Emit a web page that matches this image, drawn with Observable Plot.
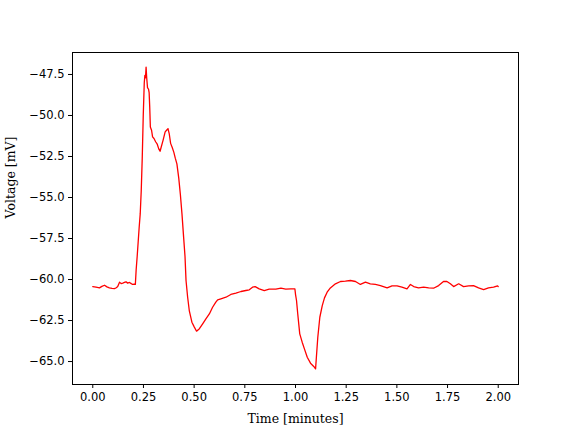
<!DOCTYPE html>
<html>
<head>
<meta charset="utf-8">
<script src="https://cdn.jsdelivr.net/npm/d3@7"></script>
<script src="https://cdn.jsdelivr.net/npm/@observablehq/plot@0.6"></script>
<style>
  html, body { margin: 0; padding: 0; background: white; }
</style>
</head>
<body>
<div id="chart"></div>
<script>
const times = [
  0.000, 0.016, 0.033, 0.045, 0.058, 0.070, 0.082, 0.095, 0.107, 0.116,
  0.123, 0.132, 0.140, 0.148, 0.156, 0.164, 0.172, 0.181, 0.190, 0.197,
  0.205, 0.210, 0.214, 0.219, 0.224, 0.229, 0.234, 0.239, 0.244, 0.249,
  0.254, 0.257, 0.260, 0.263, 0.266, 0.270, 0.275, 0.278, 0.281, 0.284,
  0.290, 0.295, 0.302, 0.310, 0.318, 0.326, 0.332, 0.337, 0.347, 0.357,
  0.364, 0.371, 0.377, 0.384, 0.392, 0.400, 0.407, 0.415, 0.424, 0.432,
  0.440, 0.448, 0.455, 0.460, 0.468, 0.476, 0.489, 0.501, 0.512, 0.526,
  0.542, 0.558, 0.575, 0.591, 0.607, 0.616, 0.632, 0.657, 0.681, 0.706,
  0.731, 0.755, 0.772, 0.788, 0.801, 0.821, 0.846, 0.870, 0.903, 0.928,
  0.952, 0.977, 0.997, 1.000, 1.005, 1.011, 1.021, 1.033, 1.044, 1.058,
  1.074, 1.090, 1.099, 1.103, 1.110, 1.120, 1.132, 1.143, 1.156, 1.172,
  1.197, 1.222, 1.246, 1.271, 1.296, 1.320, 1.345, 1.369, 1.394, 1.419,
  1.452, 1.476, 1.501, 1.525, 1.550, 1.567, 1.583, 1.607, 1.632, 1.657,
  1.681, 1.706, 1.730, 1.747, 1.764, 1.780, 1.805, 1.829, 1.854, 1.878,
  1.903, 1.928, 1.952, 1.977, 1.997, 2.000
];
const volts = [
  -60.43, -60.47, -60.51, -60.42, -60.35, -60.45, -60.51, -60.54, -60.55, -60.50,
  -60.43, -60.16, -60.25, -60.22, -60.18, -60.14, -60.22, -60.18, -60.25, -60.30,
  -60.28, -60.30, -59.40, -58.60, -57.70, -56.80, -56.00, -54.60, -52.60, -50.00,
  -48.00, -47.55, -47.70, -47.05, -47.70, -48.30, -48.40, -48.60, -49.50, -50.70,
  -50.90, -51.30, -51.40, -51.60, -51.75, -52.05, -52.18, -51.95, -51.50, -51.00,
  -50.90, -50.80, -51.10, -51.70, -51.95, -52.25, -52.60, -52.95, -53.80, -54.80,
  -56.00, -57.40, -58.60, -60.06, -61.08, -61.89, -62.60, -62.90, -63.15, -63.00,
  -62.70, -62.40, -62.10, -61.69, -61.38, -61.24, -61.18, -61.08, -60.91, -60.83,
  -60.73, -60.67, -60.63, -60.47, -60.43, -60.57, -60.67, -60.59, -60.59, -60.53,
  -60.59, -60.57, -60.57, -60.90, -61.28, -62.09, -63.31, -63.82, -64.23, -64.74,
  -65.10, -65.30, -65.45, -64.74, -63.52, -62.30, -61.59, -61.12, -60.77, -60.51,
  -60.26, -60.12, -60.10, -60.06, -60.12, -60.30, -60.16, -60.26, -60.30, -60.37,
  -60.51, -60.39, -60.39, -60.47, -60.57, -60.30, -60.43, -60.51, -60.47, -60.51,
  -60.53, -60.37, -60.12, -60.12, -60.26, -60.43, -60.26, -60.43, -60.39, -60.37,
  -60.51, -60.61, -60.51, -60.47, -60.39, -60.43
];
const xTicks = [0, 0.25, 0.5, 0.75, 1.0, 1.25, 1.5, 1.75, 2.0];
const yTicks = [-47.5, -50.0, -52.5, -55.0, -57.5, -60.0, -62.5, -65.0];
const xLabel = "Time [minutes]";
const yLabel = "Voltage [mV]";

const data = times.map((t, i) => ({t, v: volts[i]}));

const chart = Plot.plot({
  width: 576,
  height: 432,
  marginLeft: 72,
  marginRight: 58,
  marginTop: 52,
  marginBottom: 48,
  style: {fontFamily: "DejaVu Sans", fontSize: "11.5px", color: "black", background: "white"},
  x: {domain: [-0.1, 2.1]},
  y: {domain: [-66.40, -46.16]},
  marks: [
    Plot.line(data, {x: "t", y: "v", stroke: "red", strokeWidth: 1.3}),
    Plot.frame({stroke: "black", strokeWidth: 1}),
    Plot.axisX({ticks: xTicks, tickFormat: d => d.toFixed(2), tickSize: 4, tickPadding: 4, label: null, fontSize: 11.5}),
    Plot.axisY({ticks: yTicks, tickFormat: d => d.toFixed(1).replace("-", "\u2212"), tickSize: 4, tickPadding: 4, label: null, fontSize: 11.5}),
    Plot.text([xLabel], {text: d => d, frameAnchor: "bottom", dy: 34, fontFamily: "DejaVu Serif", fontSize: 12.5, lineAnchor: "middle", fill: "black"}),
    Plot.text([yLabel], {text: d => d, frameAnchor: "left", dx: -62, rotate: -90, fontFamily: "DejaVu Serif", fontSize: 12.5, lineAnchor: "middle", fill: "black"})
  ]
});
document.getElementById("chart").appendChild(chart);
</script>
</body>
</html>
